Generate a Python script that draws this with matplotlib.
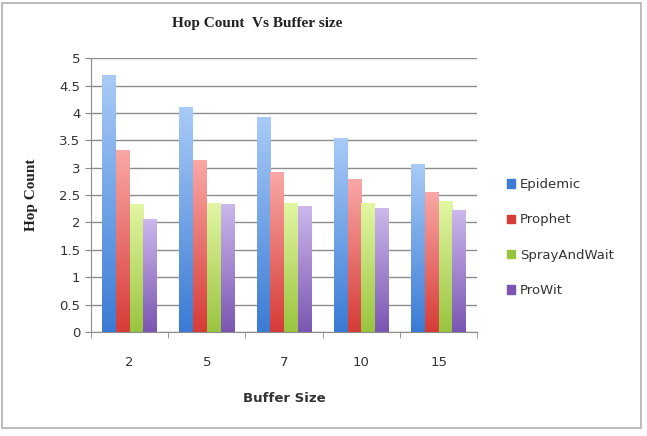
import matplotlib.pyplot as plt
import numpy as np
from matplotlib.colors import LinearSegmentedColormap
from matplotlib.patches import Rectangle

buffer_sizes = ["2", "5", "7", "10", "15"]
series_names = ["Epidemic", "Prophet", "SprayAndWait", "ProWit"]
epidemic = [4.69, 4.11, 3.92, 3.55, 3.06]
prophet = [3.32, 3.14, 2.92, 2.79, 2.55]
spray_and_wait = [2.34, 2.36, 2.36, 2.36, 2.40]
prowit = [2.07, 2.34, 2.31, 2.26, 2.23]

# (top, bottom) colours for the gradient fill
bar_colors = [
    ("#a9cbf7", "#3a7bd5"),
    ("#f9a8a6", "#d63b37"),
    ("#e3f7a4", "#99c43e"),
    ("#cdb8ec", "#7a56b2"),
]

fig = plt.figure(figsize=(6.47, 4.36), dpi=100)
ax = fig.add_axes([0.1406, 0.2385, 0.597, 0.628])

n_series = len(series_names)
bar_w = 1 / (n_series + 1.6)
x = np.arange(len(buffer_sizes))
gradient = np.linspace(0, 1, 256).reshape(-1, 1)

handles = []
for i, (name, values) in enumerate(zip(series_names, [epidemic, prophet, spray_and_wait, prowit])):
    top, bottom = bar_colors[i]
    cmap = LinearSegmentedColormap.from_list(name, [bottom, top])
    offset = (i - (n_series - 1) / 2) * bar_w
    bars = ax.bar(x + offset, values, width=bar_w, color=bottom, linewidth=0, zorder=2)
    for bar in bars:
        bx, by = bar.get_x(), bar.get_y()
        img = ax.imshow(gradient, cmap=cmap, origin="lower", aspect="auto",
                        extent=(bx, bx + bar.get_width(), by, by + bar.get_height()),
                        zorder=2.5)
        img.set_clip_path(bar)
    handles.append(Rectangle((0, 0), 1, 1, color=bottom))

ax.set_xlim(-0.5, len(buffer_sizes) - 0.5)
ax.set_ylim(0, 5)
ax.set_yticks(np.arange(0, 5.01, 0.5))
ax.set_yticklabels(["0", "0.5", "1", "1.5", "2", "2.5", "3", "3.5", "4", "4.5", "5"])
ax.set_xticks(x)
ax.set_xticklabels(buffer_sizes)
ax.set_xticks(np.arange(-0.5, len(buffer_sizes), 1), minor=True)
ax.tick_params(axis="x", which="major", length=0, pad=17, labelsize=9.5, colors="#333333")
ax.tick_params(axis="x", which="minor", length=4, color="#888888")
ax.tick_params(axis="y", length=4, color="#888888", labelsize=9.5, labelcolor="#333333")
ax.grid(axis="y", color="#8c8c8c", linewidth=1, zorder=0)
ax.set_axisbelow(True)
for side in ["top", "right"]:
    ax.spines[side].set_visible(False)
for side in ["left", "bottom"]:
    ax.spines[side].set_color("#8c8c8c")

fig.text(0.397, 0.947, "Hop Count  Vs Buffer size", ha="center", va="center",
         family="Liberation Serif", weight="bold", fontsize=11, color="#222222")
fig.text(0.048, 0.553, "Hop Count", ha="center", va="center", rotation=90,
         family="Liberation Serif", weight="bold", fontsize=11, color="#222222")
fig.text(0.44, 0.087, "Buffer Size", ha="center", va="center",
         weight="bold", fontsize=9.5, color="#333333")

fig.legend(handles, series_names, loc="center left", bbox_to_anchor=(0.765, 0.455),
           frameon=False, fontsize=9.5, handlelength=0.6, handleheight=0.6,
           handletextpad=0.4, labelspacing=1.7, labelcolor="#333333")

fig.patches.append(Rectangle((0.003, 0.018), 0.987, 0.975, transform=fig.transFigure,
                             fill=False, edgecolor="#b0b0b0", linewidth=1.2))

fig.savefig("out.png", dpi=100)
